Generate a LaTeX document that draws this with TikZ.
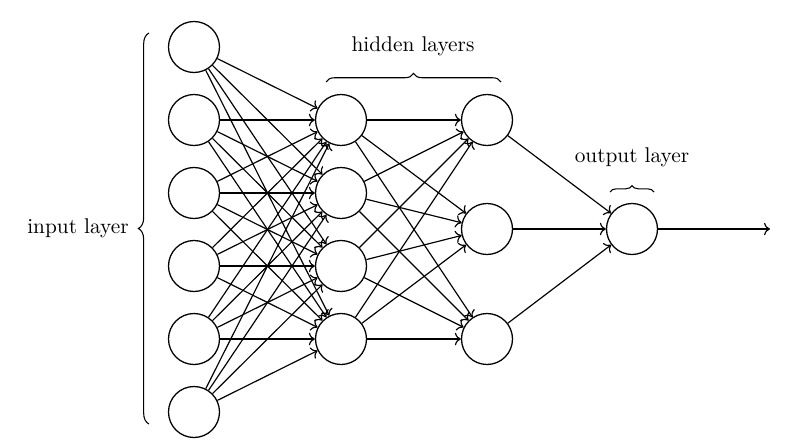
\documentclass[tikz,border=0pt]{standalone}
\usetikzlibrary{decorations.pathreplacing,arrows.meta}
\begin{document}
\begin{tikzpicture}[x=0.469pt,y=-0.469pt,
  neuron/.style={circle,draw,line width=0.6pt,minimum size=51*0.469pt,inner sep=0pt},
  conn/.style={->,line width=0.55pt},
  bracedeco/.style={decorate,decoration={brace,amplitude=#1},line width=0.5pt},
  lbl/.style={font=\normalsize}]
\useasboundingbox (0,0) rectangle (800,446);
% input layer
\foreach \i/\y in {1/47,2/120,3/193,4/266,5/339,6/412}
  \node[neuron] (I\i) at (194,\y) {};
% hidden layer 1
\foreach \i/\y in {1/120,2/193,3/266,4/339}
  \node[neuron] (H\i) at (341,\y) {};
% hidden layer 2
\foreach \i/\y in {1/120,2/229,3/339}
  \node[neuron] (K\i) at (487,\y) {};
% output
\node[neuron] (O) at (632,229) {};
\coordinate (end) at (770,229);
% connections
\foreach \i in {1,...,6}
  \foreach \j in {1,...,4}
    \draw[conn] (I\i) -- (H\j);
\foreach \i in {1,...,4}
  \foreach \j in {1,...,3}
    \draw[conn] (H\i) -- (K\j);
\foreach \i in {1,...,3}
  \draw[conn] (K\i) -- (O);
\draw[conn] (O) -- (end);
% braces
\coordinate (ib1) at (149,424);
\coordinate (ib2) at (149,33);
\draw[bracedeco=5pt] (ib1) -- (ib2);
\node[lbl] (il) at (78,228) {input layer};
\coordinate (hb1) at (326,82);
\coordinate (hb2) at (501,82);
\draw[bracedeco=4pt] (hb1) -- (hb2);
\node[lbl] (hl) at (413,46) {hidden layers};
\coordinate (ob1) at (610,192);
\coordinate (ob2) at (654,192);
\draw[bracedeco=3pt] (ob1) -- (ob2);
\node[lbl] (ol) at (632,157) {output layer};
\end{tikzpicture}
\end{document}
